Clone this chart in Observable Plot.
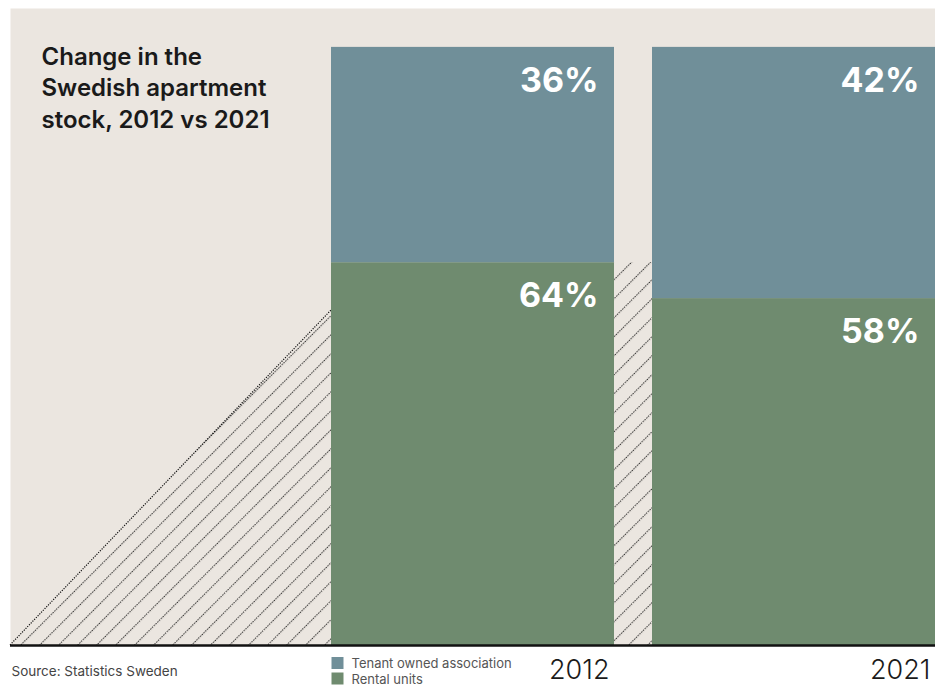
<!DOCTYPE html>
<html>
<head>
<meta charset="utf-8">
<script src="https://cdn.jsdelivr.net/npm/d3@7"></script>
<script src="https://cdn.jsdelivr.net/npm/@observablehq/plot@0.6"></script>
<style>
  html, body { margin: 0; padding: 0; background: #ffffff; }
  svg { display: block; }
</style>
</head>
<body>
<div id="chart"></div>
<script>
// ---- data ----
const years = ["2012", "2021"];
const rentalShare = [64, 58];          // % rental units
const tenantShare = [36, 42];          // % tenant owned association
const legendOrder = ["Tenant owned association", "Rental units"];
const rampTop = 56;                    // height (%) of the decorative hatched ramp
const titleText = "Change in the\nSwedish apartment\nstock, 2012 vs 2021";
const sourceText = "Source: Statistics Sweden";

const rows = years.flatMap((year, i) => [
  {year, type: "Rental units", value: rentalShare[i]},
  {year, type: "Tenant owned association", value: tenantShare[i]}
]);

const FONT = "Inter, 'Noto Sans', sans-serif";
const BG = "#ebe6e0";

// hatched decoration drawn through the plot's scales
function hatch(index, scales, values, dimensions) {
  const x = scales.x, y = scales.y;
  let bw = typeof x.bandwidth === "function" ? x.bandwidth() : x.bandwidth;
  if (bw == null && scales.scales && scales.scales.x) bw = scales.scales.x.bandwidth;
  const x0 = dimensions.marginLeft;
  const xa = x(years[0]);
  const xb = x(years[1]);
  const y0 = y(0);
  const g = d3.create("svg:g");
  const p = g.append("defs").append("pattern")
    .attr("id", "hatchPattern")
    .attr("patternUnits", "userSpaceOnUse")
    .attr("width", 13.435).attr("height", 10)
    .attr("patternTransform", "rotate(45)");
  p.append("line")
    .attr("x1", 0.5).attr("x2", 0.5).attr("y1", 0).attr("y2", 10)
    .attr("stroke", "#111111").attr("stroke-width", 1.2)
    .attr("stroke-dasharray", "1.2 1.3");
  g.append("path")
    .attr("d", `M${x0},${y0}L${xa},${y0}L${xa},${y(rampTop)}Z`)
    .attr("fill", "url(#hatchPattern)");
  g.append("line")
    .attr("x1", x0).attr("y1", y0).attr("x2", xa).attr("y2", y(rampTop))
    .attr("stroke", "#111111").attr("stroke-width", 1.2).attr("stroke-dasharray", "1.2 1.3");
  g.append("rect")
    .attr("x", xa + bw).attr("width", xb - xa - bw)
    .attr("y", y(rentalShare[0])).attr("height", y0 - y(rentalShare[0]))
    .attr("fill", "url(#hatchPattern)");
  return g.node();
}

const chart = Plot.plot({
  width: 935,
  height: 685,
  marginLeft: 10,
  marginRight: 0,
  marginTop: 8,
  marginBottom: 40,
  style: {fontFamily: FONT, background: "#ffffff", overflow: "visible"},
  x: {type: "band", domain: years, paddingInner: 0.1184, paddingOuter: 0.5, align: 1, axis: null},
  y: {domain: [0, 106.5], axis: null},
  color: {domain: legendOrder, range: ["#708f99", "#6f8b6f"]},
  marks: [
    Plot.frame({fill: BG}),
    hatch,
    Plot.barY(rows, {x: "year", y: "value", fill: "type"}),
    Plot.ruleY([0], {stroke: "#111111", strokeWidth: 2.5}),
    Plot.text(rows, Plot.stackY2({
      x: "year", y: "value", text: d => d.value + "%",
      fill: "#ffffff", fontSize: 34, fontWeight: 700,
      textAnchor: "end", lineAnchor: "top", dx: 125.5, dy: 20
    })),
    Plot.text([titleText], {
      frameAnchor: "top-left", text: d => d, lineAnchor: "top",
      dx: 31, dy: 34, fontSize: 24, fontWeight: 600, lineHeight: 1.31,
      fill: "#1a1a1a"
    }),
    Plot.text([sourceText], {
      frameAnchor: "bottom-left", text: d => d, lineAnchor: "top",
      dx: 1, dy: 21, fontSize: 13.5, fill: "#444444"
    }),
    Plot.text(years, {
      x: d => d, text: d => d, frameAnchor: "bottom",
      textAnchor: "end", lineAnchor: "top", dx: 136.5, dy: 14,
      fontSize: 27, fontWeight: 300, fill: "#1a1a1a"
    }),
    ...legendOrder.map((name, i) => Plot.dot([name], {
      x: () => years[0], frameAnchor: "bottom", fill: d => d,
      symbol: "square", r: 6.77, dx: -135.5, dy: 17.5 + i * 15.5
    })),
    Plot.text([legendOrder.join("\n")], {
      x: () => years[0], text: d => d, frameAnchor: "bottom",
      textAnchor: "start", lineAnchor: "top", dx: -121.5, dy: 12,
      fontSize: 13, lineHeight: 1.18, fill: "#555555"
    })
  ]
});

document.getElementById("chart").appendChild(chart);
</script>
</body>
</html>
